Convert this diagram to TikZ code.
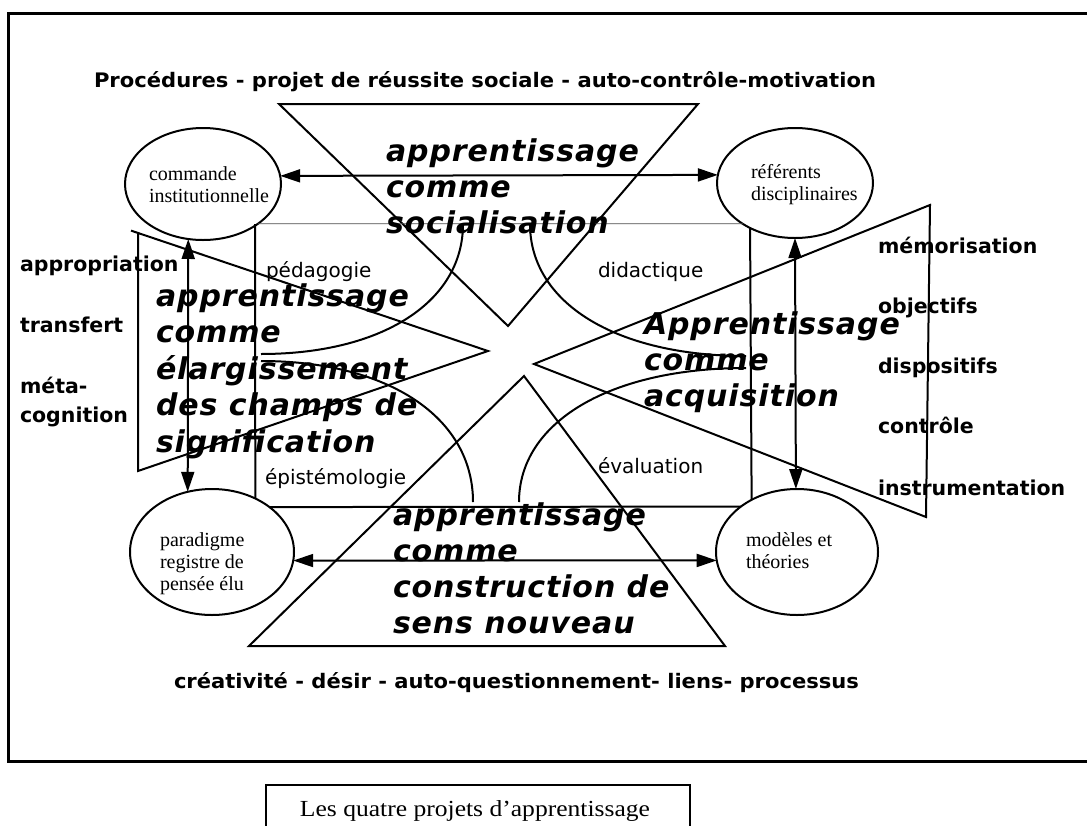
\documentclass[tikz,border=0pt]{standalone}
\usepackage{fontspec}
\usepackage{graphicx}
\usetikzlibrary{arrows.meta,shapes.geometric}
\newfontfamily\labfont{DejaVu Sans}
\newfontfamily\bigfont[LetterSpace=3]{DejaVu Sans}
\newfontfamily\serf{Liberation Serif}
\tikzset{
  thk/.style={line width=2pt, line join=miter},
  ell/.style={draw, ellipse, line width=2pt, inner sep=0pt, outer sep=0pt},
  dbl/.style={line width=2pt, {Triangle[length=20pt,width=13pt]}-{Triangle[length=20pt,width=13pt]}},
  txt/.style={anchor=base west, inner sep=0pt, outer sep=0pt},
  big/.style={txt, font=\bigfont\bfseries\itshape\fontsize{30}{36}\selectfont},
  lab/.style={txt, font=\labfont\fontsize{20}{24}\selectfont},
  side/.style={txt, font=\labfont\bfseries\fontsize{20.5}{24}\selectfont},
  ser/.style={txt, font=\serf\fontsize{20}{22}\selectfont},
}
\begin{document}
\begin{tikzpicture}[x=1pt,y=-1pt]
\useasboundingbox (0,0) rectangle (1087,825);
\clip (0,0) rectangle (1087,825);
% outer frame (open on the right)
\draw[line width=3pt] (1100,13) -- (8,13) -- (8,761) -- (1100,761);
% caption box
\draw[line width=2.5pt] (266,840) -- (266,785) -- (690,785) -- (690,840);
\node[anchor=base, inner sep=0pt] (caption) at (475,816)
  {\resizebox{350pt}{\height}{\serf\fontsize{23}{27}\selectfont Les quatre projets d’apprentissage}};
% top and bottom texts
\node[txt] (toptext) at (94,87)
  {\resizebox{782pt}{\height}{\labfont\bfseries\fontsize{20}{24}\selectfont Procédures - projet de réussite sociale - auto-contrôle-motivation}};
\node[txt] (bottomtext) at (174,688)
  {\resizebox{685pt}{\height}{\labfont\bfseries\fontsize{20}{24}\selectfont créativité - désir - auto-questionnement- liens- processus}};
% triangles
\draw[thk] (279,104) -- (698,104) -- (508,326) -- cycle;
\draw[thk] (131,230.6) -- (488,351) -- (138,471) -- (138,233);
\draw[thk] (930,205) -- (534,364) -- (926,517) -- cycle;
\draw[thk] (524,376) -- (725,646) -- (249,646) -- cycle;
% ellipses
\node[ell, minimum width=156pt, minimum height=112pt] (commande) at (203,184) {};
\node[ell, minimum width=156pt, minimum height=110pt] (referents) at (795,183) {};
\node[ell, minimum width=164pt, minimum height=126pt] (paradigme) at (212,552) {};
\node[ell, minimum width=162pt, minimum height=126pt] (modeles) at (797,552) {};
% inner frame
\coordinate (tl) at (255,224);
\draw[line width=0.8pt, black!70] (commande.-36) -- (referents.218);
\draw[thk] (tl) -- (paradigme.51.3);
\draw[thk] (referents.225.9) -- (modeles.131.6);
\draw[thk] (paradigme.38.1) -- (modeles.141.9);
% arrows
\draw[dbl] (commande.6) -- (referents.174);
\draw[dbl] (paradigme.-6) -- (modeles.186);
\draw[dbl] (commande.255) -- (paradigme.112);
\draw[dbl] (referents.270) -- (modeles.91);
% arcs
\draw[thk] (463,224) .. controls (463,302) and (382,354) .. (261,354);
\draw[thk] (261,361) .. controls (388,361) and (473,417) .. (473,502);
\draw[thk] (530,224) .. controls (530,303) and (616,356) .. (746,356);
\draw[thk] (746,368) .. controls (610,368) and (519,422) .. (519,502);
% ellipse texts
\node[ser] (c1) at (149,180) {commande};
\node[ser] (c2) at (149,202) {institutionnelle};
\node[ser] (r1) at (751,178) {référents};
\node[ser] (r2) at (751,200) {disciplinaires};
\node[ser] (p1) at (160,546) {paradigme};
\node[ser] (p2) at (160,568) {registre de};
\node[ser] (p3) at (160,590) {pensée élu};
\node[ser] (m1) at (746,546) {modèles et};
\node[ser] (m2) at (746,568) {théories};
% small labels
\node[lab] (peda) at (266,277) {pédagogie};
\node[lab] (dida) at (598,277) {didactique};
\node[lab] (epis) at (265,484) {épistémologie};
\node[lab] (eval) at (598,473) {évaluation};
% side labels
\node[side] (s1) at (20,271) {appropriation};
\node[side] (s2) at (20,332) {transfert};
\node[side] (s3) at (20,393) {méta-};
\node[side] (s4) at (20,422) {cognition};
\node[side] (d1) at (878,253) {mémorisation};
\node[side] (d2) at (878,313) {objectifs};
\node[side] (d3) at (878,373) {dispositifs};
\node[side] (d4) at (878,433) {contrôle};
\node[side] (d5) at (878,495) {instrumentation};
% big texts
\node[big] (t1) at (386,161) {apprentissage};
\node[big] (t2) at (386,197) {comme};
\node[big] (t3) at (386,233) {socialisation};
\node[big] (l1) at (156,306) {apprentissage};
\node[big] (l2) at (156,342) {comme};
\node[big] (l3) at (156,379) {élargissement};
\node[big] (l4) at (156,415) {des champs de};
\node[big] (l5) at (156,452) {signification};
\node[big] (a1) at (644,334) {Apprentissage};
\node[big] (a2) at (644,370) {comme};
\node[big] (a3) at (644,406) {acquisition};
\node[big] (b1) at (393,525) {apprentissage};
\node[big] (b2) at (393,561) {comme};
\node[big] (b3) at (393,597) {construction de};
\node[big] (b4) at (393,633) {sens nouveau};
\end{tikzpicture}
\end{document}
